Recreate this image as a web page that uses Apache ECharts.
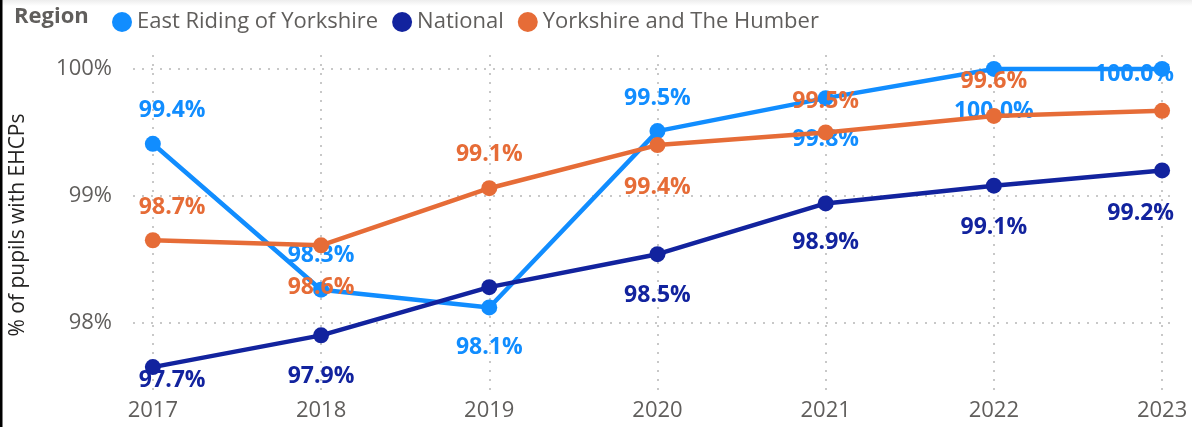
<!DOCTYPE html>
<html><head><meta charset="utf-8">
<script src="https://cdn.jsdelivr.net/npm/echarts@6/dist/echarts.min.js"></script>
<style>html,body{margin:0;padding:0;background:#fff}#c{width:1192px;height:427px}</style>
</head><body><div id="c"></div>
<script>
const years = [2017, 2018, 2019, 2020, 2021, 2022, 2023];
const seriesNames = ['East Riding of Yorkshire', 'National', 'Yorkshire and The Humber'];
const eastRiding = [99.41, 98.26, 98.12, 99.51, 99.77, 100.0, 100.0];
const national = [97.65, 97.90, 98.28, 98.54, 98.94, 99.08, 99.20];
const yorkshire = [98.65, 98.61, 99.06, 99.40, 99.50, 99.63, 99.67];
const yTicks = [98, 99, 100];
const colors = ['#118DFF', '#12239E', '#E66C37'];
// label placement per point (style only): [dx, dy, align] or null to hide
const labelPlacement = [
  [[-14,-33,'left'],[0,-34,'center'],[0,40,'center'],[0,-33,'center'],[0,41,'center'],[0,42,'center'],[12,5,'right']],
  [[-14,13,'left'],[0,41,'center'],null,[0,41,'center'],[0,39,'center'],[0,42,'center'],[12,43,'right']],
  [[-14,-33,'left'],[0,42,'center'],[0,-34,'center'],[0,42,'center'],[0,-31,'center'],[0,-34,'center'],null]
];
const FONT = '"Open Sans", "Noto Sans", sans-serif';
const allData = [eastRiding, national, yorkshire];
const chart = echarts.init(document.getElementById('c'), null, {renderer: 'canvas'});
const series = allData.map((vals, si) => ({
  name: seriesNames[si],
  type: 'line',
  data: vals.map((v, i) => {
    const pl = labelPlacement[si][i];
    return {
      value: [years[i], v],
      label: pl ? {show: true, position: 'inside', offset: [pl[0], pl[1]], align: pl[2], verticalAlign: 'middle'} : {show: false}
    };
  }),
  symbol: 'circle',
  symbolSize: 16,
  lineStyle: {width: 4.5, color: colors[si]},
  itemStyle: {color: colors[si]},
  z: 3 + si,
  label: {
    show: true,
    color: colors[si],
    fontFamily: FONT,
    fontWeight: 'bold',
    fontSize: 23,
    formatter: p => p.value[1].toFixed(1) + '%'
  },
  emphasis: {disabled: true},
  animation: false
}));
chart.setOption({
  animation: false,
  color: colors,
  grid: {left: 127, right: 20, top: 55, bottom: 32, containLabel: false},
  legend: {
    data: seriesNames,
    left: 107, top: 6,
    icon: 'circle', itemWidth: 20, itemHeight: 20, itemGap: 14,
    textStyle: {fontFamily: FONT, fontSize: 22, color: '#605E5C'}
  },
  graphic: [
    {type: 'rect', shape: {x: 0, y: 0, width: 1192, height: 6},
     style: {fill: new echarts.graphic.LinearGradient(0, 0, 0, 1, [{offset: 0, color: '#EDEDED'}, {offset: 1, color: '#FFFFFF'}])}},
    {type: 'text', x: 14, y: 17, style: {text: 'Region', font: 'bold 22px ' + FONT, fill: '#605E5C', verticalAlign: 'middle'}},
    {type: 'rect', shape: {x: 0, y: 0, width: 2.5, height: 427}, style: {fill: '#000'}}
  ],
  xAxis: {
    type: 'value',
    min: 2016.882, max: 2023.059,
    axisLine: {show: false},
    axisTick: {show: false, customValues: years},
    axisLabel: {customValues: years, formatter: v => String(v), fontFamily: FONT, fontSize: 22, color: '#605E5C', margin: 5},
    splitLine: {show: true, lineStyle: {type: [2, 7], color: '#C8C8C8', width: 2}}
  },
  yAxis: {
    type: 'value',
    min: 97.43, max: 100.11,
    name: '% of pupils with EHCPs',
    nameLocation: 'middle', nameGap: 104,
    nameTextStyle: {fontFamily: FONT, fontSize: 21, color: '#252423'},
    axisLine: {show: false},
    axisTick: {show: false, customValues: yTicks},
    axisLabel: {customValues: yTicks, formatter: v => v + '%', fontFamily: FONT, fontSize: 22, color: '#605E5C', margin: 21},
    splitLine: {show: true, lineStyle: {type: [2, 7], color: '#C8C8C8', width: 2}}
  },
  series: series
});
</script></body></html>
